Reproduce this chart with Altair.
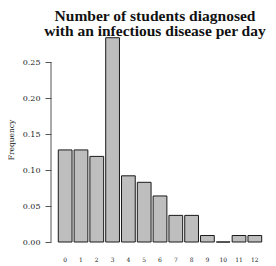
import altair as alt
import pandas as pd

cases = ["0", "1", "2", "3", "4", "5", "6", "7", "8", "9", "10", "11", "12"]
freq = [0.128, 0.128, 0.119, 0.284, 0.092, 0.083, 0.064, 0.037, 0.037, 0.009, 0.0, 0.009, 0.009]
y_ticks = [0.0, 0.05, 0.10, 0.15, 0.20, 0.25]

df = pd.DataFrame({"cases": cases, "freq": freq})
TFONT = "Liberation Serif"
FONT = "DejaVu Serif"

bars = alt.Chart(df).mark_bar(fill="#bebebe", stroke="#1a1a1a", strokeWidth=1).encode(
    x=alt.X("cases:N", sort=cases, title=None,
            scale=alt.Scale(paddingInner=0.13, paddingOuter=0.145),
            axis=alt.Axis(labelAngle=0, ticks=False, domain=False, labelPadding=14,
                          labelFont=FONT, labelFontSize=6, labelColor="#222")),
    y=alt.Y("freq:Q", title="Frequency",
            scale=alt.Scale(domain=[0, 0.285], nice=False, zero=True),
            axis=alt.Axis(values=y_ticks, format=".2f", domain=False, grid=False, offset=5,
                          tickSize=6, tickColor="#555", labelPadding=5,
                          labelFont=FONT, labelFontSize=8, labelColor="#222",
                          titleFont=FONT, titleFontSize=7.5, titleFontWeight="normal",
                          titleColor="#222", titlePadding=7)),
)

axis_df = pd.DataFrame({"y0": [0.0], "y1": [0.25]})
axis_line = alt.Chart(axis_df).mark_rule(color="#555", strokeWidth=1).encode(
    x=alt.value(-5),
    y=alt.Y("y0:Q"),
    y2="y1:Q",
)

chart = alt.layer(bars, axis_line).properties(
    width=208, height=205,
    title=alt.TitleParams(["Number of students diagnosed", "with an infectious disease per day"],
                          font=TFONT, fontSize=15.5, fontWeight="bold", color="#111",
                          anchor="middle", lineHeight=15.5, offset=4, dy=6.5, dx=-5),
    autosize=alt.AutoSizeParams(type="none"),
    padding={"left": 48, "top": 29, "right": 4, "bottom": 22},
).configure_view(stroke=None)

chart.save("out.html", embed_options={"renderer": "svg", "actions": False})
